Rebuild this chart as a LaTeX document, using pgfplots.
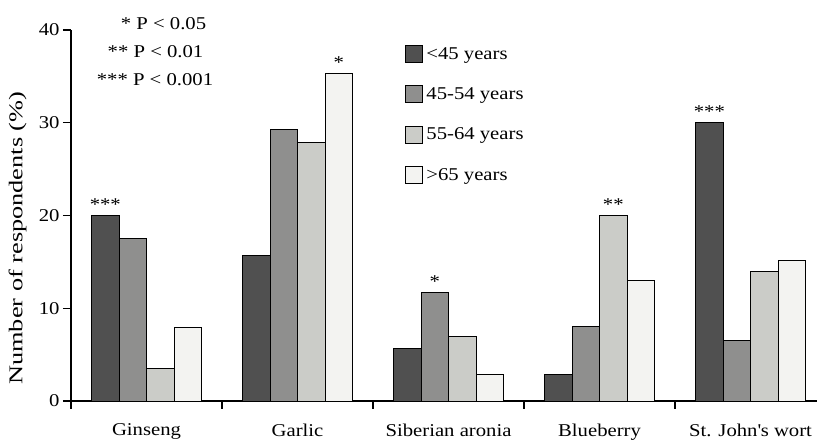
\documentclass[border=0pt]{standalone}
\usepackage{fontspec}
\setmainfont{Liberation Serif}[FakeStretch=1.15]
\newfontfamily\ylabfont{Liberation Serif}[FakeStretch=1.35]
\usepackage{pgfplots}
\pgfplotsset{compat=1.18}
\definecolor{cA}{HTML}{505050}
\definecolor{cB}{HTML}{8F8F8E}
\definecolor{cC}{HTML}{CBCCC8}
\definecolor{cD}{HTML}{F3F3F1}
\newcommand\fsz{\fontsize{18bp}{21bp}\selectfont}
\pgfplotsset{legsq/.style={legend image code/.code={\draw[##1,line width=1bp] (0bp,-8.5bp) rectangle (17bp,8.5bp);}}}
\begin{document}
\begin{tikzpicture}
\useasboundingbox (-71bp,-42bp) rectangle (746bp,401bp);
\begin{axis}[
  at={(0,0)}, anchor=south west,
  scale only axis, width=746bp, height=371bp,
  xmin=-0.5, xmax=4.44, ymin=0, ymax=40,
  clip=false,
  ybar=0pt, bar width=27.5bp,
  axis x line*=bottom, axis y line*=left,
  axis line style={line width=1.2bp},
  xtick={0,1,2,3,4},
  xticklabels={Ginseng,Garlic,Siberian aronia,Blueberry,St. John\textquotesingle s wort},
  xtick style={draw=none},
  xticklabel shift=11bp,
  ytick={0,10,20,30,40},
  tick align=outside, major tick length=8bp,
  ytick style={line width=1.2bp, black},
  every tick label/.append style={font=\fsz},
  /pgf/number format/assume math mode=true,
  ylabel={\ylabfont\fontsize{19.5bp}{22bp}\selectfont Number of respondents (\%)},
  every axis y label/.style={at={(axis description cs:-0.0717,0.439)}, rotate=90, anchor=center},
  legend style={at={(axis description cs:0.448,0.962)}, anchor=north west, draw=none, fill=none,
    font=\fsz, row sep=21bp, inner sep=0pt, nodes={inner sep=3bp}},
  legend cell align=left,
]
\addplot[fill=cA, draw=black, line width=1bp, legsq] coordinates {(0,20) (1,15.7) (2,5.7) (3,2.9) (4,30.0)};
\addlegendentry{<45 years}
\addplot[fill=cB, draw=black, line width=1bp, legsq] coordinates {(0,17.5) (1,29.3) (2,11.7) (3,8.0) (4,6.5)};
\addlegendentry{45-54 years}
\addplot[fill=cC, draw=black, line width=1bp, legsq] coordinates {(0,3.5) (1,27.9) (2,7.0) (3,20.0) (4,13.95)};
\addlegendentry{55-64 years}
\addplot[fill=cD, draw=black, line width=1bp, legsq] coordinates {(0,7.9) (1,35.3) (2,2.9) (3,13.0) (4,15.1)};
\addlegendentry{>65 years}
\draw[line width=1.2bp] (axis cs:-0.5,0) -- ++(0pt,-7.5bp);
\draw[line width=1.2bp] (axis cs:0.5,0) -- ++(0pt,-7.5bp);
\draw[line width=1.2bp] (axis cs:1.5,0) -- ++(0pt,-7.5bp);
\draw[line width=1.2bp] (axis cs:2.5,0) -- ++(0pt,-7.5bp);
\draw[line width=1.2bp] (axis cs:3.5,0) -- ++(0pt,-7.5bp);
\node[font=\fsz, anchor=base, yshift=5bp] at (axis cs:-0.273,20) {***};
\node[font=\fsz, anchor=base, yshift=5bp] at (axis cs:1.273,35.3) {*};
\node[font=\fsz, anchor=base, yshift=5bp] at (axis cs:1.909,11.7) {*};
\node[font=\fsz, anchor=base, yshift=5bp] at (axis cs:3.091,20) {**};
\node[font=\fsz, anchor=base, yshift=5bp] at (axis cs:3.727,30) {***};
\node[font=\fsz, anchor=base, yshift=1bp] at (rel axis cs:0.124,1) {* P < 0.05};
\node[font=\fsz, anchor=base, yshift=-27bp] at (rel axis cs:0.1133,1) {** P < 0.01};
\node[font=\fsz, anchor=base, yshift=-55bp] at (rel axis cs:0.1126,1) {*** P < 0.001};
\end{axis}
\end{tikzpicture}
\end{document}
